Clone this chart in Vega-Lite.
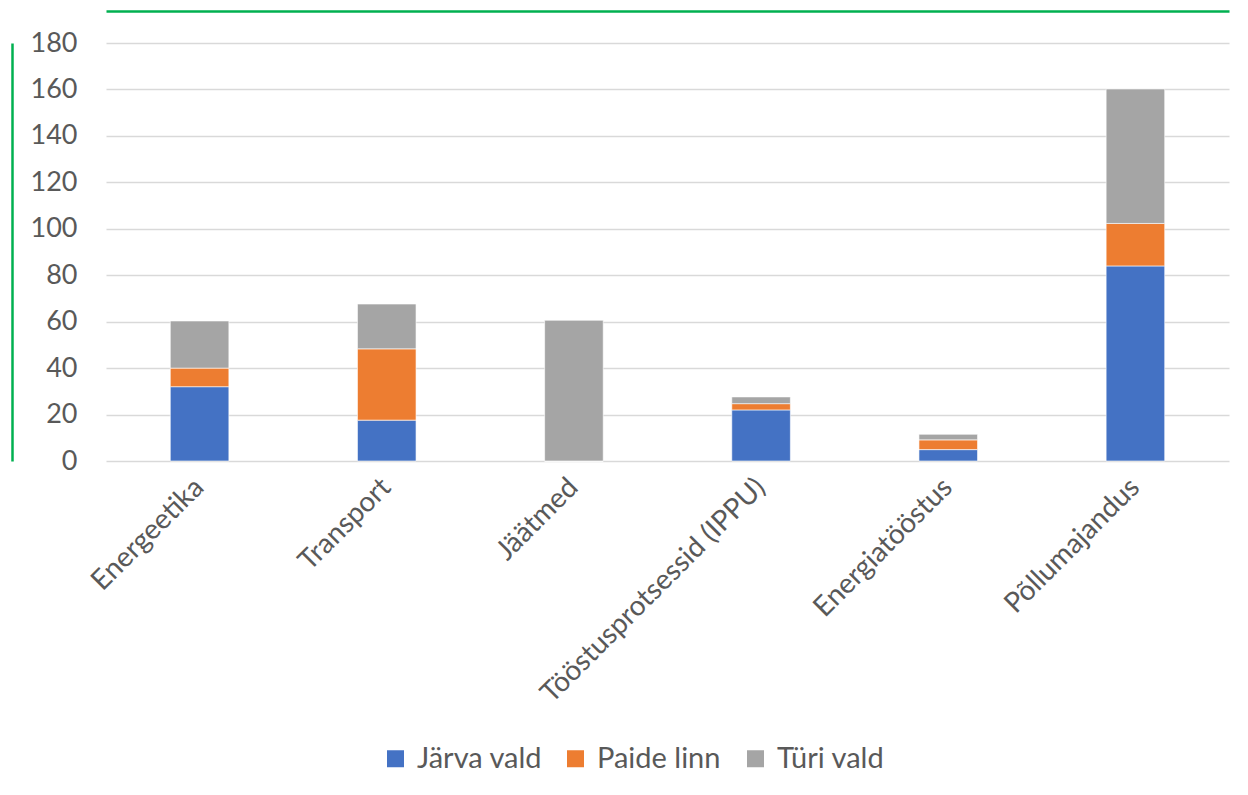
{
  "$schema": "https://vega.github.io/schema/vega-lite/v6.json",
  "width": 1123,
  "height": 418,
  "autosize": {"type": "none"},
  "padding": {"left": 106, "top": 43, "right": 19, "bottom": 334},
  "background": "white",
  "data": {
    "values": [
      {"kategooria": "Energeetika", "omavalitsus": "Järva vald", "o": 1, "väärtus": 32},
      {"kategooria": "Energeetika", "omavalitsus": "Paide linn", "o": 2, "väärtus": 8},
      {"kategooria": "Energeetika", "omavalitsus": "Türi vald", "o": 3, "väärtus": 20.3},
      {"kategooria": "Transport", "omavalitsus": "Järva vald", "o": 1, "väärtus": 17.6},
      {"kategooria": "Transport", "omavalitsus": "Paide linn", "o": 2, "väärtus": 30.7},
      {"kategooria": "Transport", "omavalitsus": "Türi vald", "o": 3, "väärtus": 19.3},
      {"kategooria": "Jäätmed", "omavalitsus": "Järva vald", "o": 1, "väärtus": 0},
      {"kategooria": "Jäätmed", "omavalitsus": "Paide linn", "o": 2, "väärtus": 0},
      {"kategooria": "Jäätmed", "omavalitsus": "Türi vald", "o": 3, "väärtus": 60.6},
      {"kategooria": "Tööstusprotsessid (IPPU)", "omavalitsus": "Järva vald", "o": 1, "väärtus": 22},
      {"kategooria": "Tööstusprotsessid (IPPU)", "omavalitsus": "Paide linn", "o": 2, "väärtus": 2.7},
      {"kategooria": "Tööstusprotsessid (IPPU)", "omavalitsus": "Türi vald", "o": 3, "väärtus": 2.9},
      {"kategooria": "Energiatööstus", "omavalitsus": "Järva vald", "o": 1, "väärtus": 4.9},
      {"kategooria": "Energiatööstus", "omavalitsus": "Paide linn", "o": 2, "väärtus": 4.2},
      {"kategooria": "Energiatööstus", "omavalitsus": "Türi vald", "o": 3, "väärtus": 2.4},
      {"kategooria": "Põllumajandus", "omavalitsus": "Järva vald", "o": 1, "väärtus": 84},
      {"kategooria": "Põllumajandus", "omavalitsus": "Paide linn", "o": 2, "väärtus": 18.3},
      {"kategooria": "Põllumajandus", "omavalitsus": "Türi vald", "o": 3, "väärtus": 57.9}
    ]
  },
  "layer": [
    {
      "mark": {"type": "bar", "stroke": "white", "strokeWidth": 1, "strokeOpacity": 0.6},
      "encoding": {
        "x": {
          "field": "kategooria",
          "type": "nominal",
          "sort": null,
          "scale": {"paddingInner": 0.687, "paddingOuter": 0.3435},
          "axis": {
            "title": null,
            "labelAngle": -45,
            "labelAlign": "right",
            "labelBaseline": "middle",
            "labelPadding": 22,
            "ticks": false,
            "domain": false,
            "labelFont": "Lato",
            "labelFontSize": 28,
            "labelColor": "#595959",
            "labelLimit": 0
          }
        },
        "y": {
          "field": "väärtus",
          "type": "quantitative",
          "stack": "zero",
          "scale": {"domain": [0, 180], "nice": false},
          "axis": {
            "title": null,
            "values": [0, 20, 40, 60, 80, 100, 120, 140, 160, 180],
            "ticks": false,
            "domain": true,
            "domainColor": "#00B050",
            "domainWidth": 2.5,
            "offset": 94,
            "labelPadding": -65,
            "labelFont": "Lato",
            "labelFontSize": 27,
            "labelColor": "#595959",
            "gridColor": "#d9d9d9",
            "gridWidth": 1.5
          }
        },
        "color": {
          "field": "omavalitsus",
          "type": "nominal",
          "scale": {
            "domain": ["Järva vald", "Paide linn", "Türi vald"],
            "range": ["#4472C4", "#ED7D31", "#A5A5A5"]
          },
          "legend": {
            "title": null,
            "orient": "none",
            "direction": "horizontal",
            "legendX": 275,
            "legendY": 701,
            "gridAlign": "all",
            "symbolType": "square",
            "symbolSize": 289,
            "symbolStrokeWidth": 0,
            "labelFont": "Lato",
            "labelFontSize": 29,
            "labelColor": "#595959",
            "labelOffset": 7,
            "columnPadding": 18
          }
        },
        "order": {"field": "o", "type": "quantitative"}
      }
    },
    {
      "mark": {"type": "tick", "opacity": 0},
      "encoding": {
        "x": {
          "field": "kategooria",
          "type": "nominal",
          "sort": null,
          "axis": {
            "orient": "top",
            "title": null,
            "labels": false,
            "ticks": false,
            "grid": false,
            "domain": true,
            "domainColor": "#00B050",
            "domainWidth": 2.5,
            "offset": 32
          }
        }
      }
    }
  ],
  "resolve": {"axis": {"x": "independent"}},
  "config": {"view": {"stroke": null}}
}
